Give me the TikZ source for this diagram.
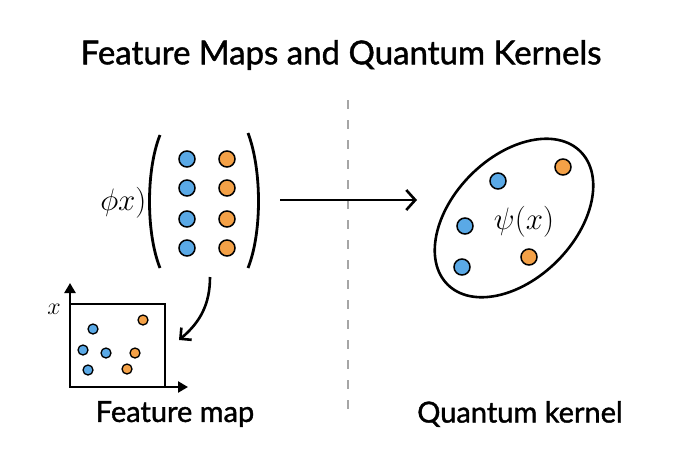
\documentclass[tikz,border=0pt]{standalone}
\usepackage{fix-cm}
\usepackage{fontspec}
\setmainfont{Lato}[FakeBold=1.3]
\usetikzlibrary{arrows.meta,shapes.geometric}

\definecolor{dotblue}{HTML}{5AA9E6}
\definecolor{dotorange}{HTML}{F4A147}

\tikzset{
  bigdot/.style={circle,draw=black,line width=1.5pt,minimum size=16pt,inner sep=0pt},
  smalldot/.style={circle,draw=black,line width=1.3pt,minimum size=10pt,inner sep=0pt},
  bluedot/.style={fill=dotblue},
  orangedot/.style={fill=dotorange},
  caption/.style={font=\fontsize{29}{34}\selectfont},
  mathlbl/.style={font=\fontsize{31}{36}\selectfont}
}

\begin{document}
\begin{tikzpicture}[x=1pt,y=1pt]
\useasboundingbox (0,0) rectangle (696,-464);
\node[font=\fontsize{33}{38}\selectfont] (title) at (341,-55) {Feature Maps and Quantum Kernels};
% divider
\coordinate (divtop) at (348,-100);
\coordinate (divbot) at (348,-415);
\draw[gray!70,line width=1.3pt,dash pattern=on 9pt off 11pt] (divtop) -- (divbot);

% feature vector
\draw[line width=2.8pt] (160,-135) .. controls (146,-170) and (146,-233) .. (160,-268);
\draw[line width=2.8pt] (248,-133) .. controls (262,-170) and (262,-233) .. (248,-268);
\foreach \i/\y in {1/159,2/188,3/219,4/248} {
  \node[bigdot,bluedot] (b\i) at (187,-\y) {};
  \node[bigdot,orangedot] (o\i) at (227,-\y) {};
}
\node[mathlbl,anchor=east] (phi) at (150,-203) {$\phi x)$};

% map to kernel
\coordinate (arrs) at (280,-200);
\coordinate (arre) at (417,-200);
\draw[line width=2.6pt,-{Straight Barb[length=9pt,width=20pt,line width=2.6pt]}] (arrs) -- (arre);

% quantum kernel
\node[draw,ellipse,line width=2.6pt,minimum width=188pt,minimum height=122pt,rotate=45] (kern) at (514,-218) {};
\node[mathlbl] (psi) at (524,-222) {$\psi(x)$};
\node[bigdot,orangedot] (k1) at (563,-167) {};
\node[bigdot,bluedot] (k2) at (498,-181) {};
\node[bigdot,bluedot] (k3) at (465,-226) {};
\node[bigdot,bluedot] (k4) at (462,-267) {};
\node[bigdot,orangedot] (k5) at (529,-257) {};

% feature map plot
\coordinate (org) at (70,-387);
\coordinate (ytip) at (70,-283);
\coordinate (xtip) at (188,-387);
\draw[line width=2.4pt] (70,-304) rectangle (165,-387);
\draw[line width=2.4pt,-{Triangle[length=10pt,width=11pt]}] (org) -- (ytip);
\draw[line width=2.4pt,-{Triangle[length=10pt,width=11pt]}] (org) -- (xtip);
\node[font=\fontsize{24}{28}\selectfont] (xlbl) at (54,-309) {$x$};
\foreach \n/\x/\y in {1/93/329,2/83/350,3/106/353,4/88/370}
  \node[smalldot,bluedot] (p\n) at (\x,-\y) {};
\foreach \n/\x/\y in {5/143/320,6/135/353,7/127/369}
  \node[smalldot,orangedot] (p\n) at (\x,-\y) {};

\coordinate (cs) at (210,-277);
\coordinate (ce) at (179,-340);
\draw[line width=2.6pt,-{Straight Barb[length=8pt,width=16pt,line width=2.6pt]}] (cs) to[out=-90,in=40] (ce);

\node[caption] (fm) at (175,-414) {Feature map};
\node[caption] (qk) at (520,-414) {Quantum kernel};
\end{tikzpicture}
\end{document}
